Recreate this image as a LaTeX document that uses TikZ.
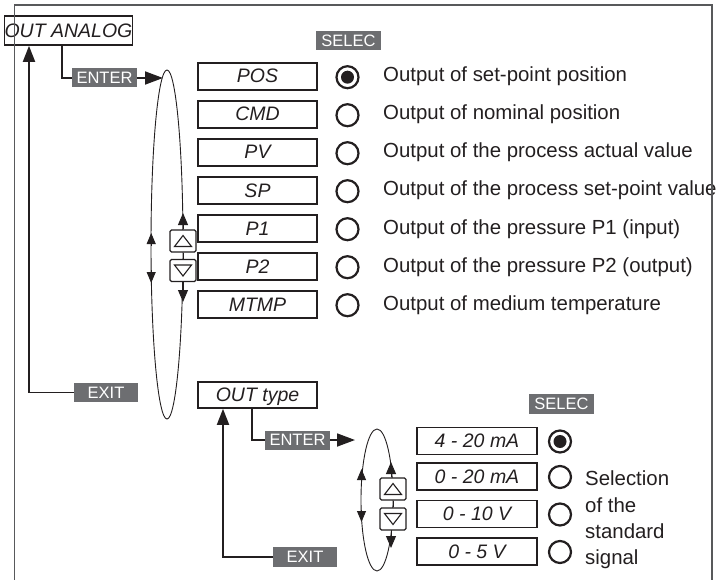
\documentclass[tikz,border=0pt]{standalone}
\usepackage{fontspec}
\setmainfont{Liberation Sans}
\usetikzlibrary{arrows.meta,calc}
\definecolor{ink}{HTML}{231F20}
\definecolor{btngray}{HTML}{6D6E71}
\definecolor{framegray}{HTML}{58595B}
\begin{document}
\begin{tikzpicture}[x=1pt,y=-1pt,
  menubox/.style={draw=ink, line width=1.6pt, minimum width=119pt, minimum height=27pt,
    inner sep=0pt, text height=13pt, text depth=0pt, text=ink,
    font=\fontsize{19.5}{21}\selectfont\itshape},
  keybtn/.style={fill=btngray, text=white, inner sep=0pt, minimum width=65pt,
    minimum height=19pt, text height=11.5pt, text depth=0pt,
    font=\fontsize{16.5}{18}\selectfont},
  radio/.style={circle, draw=ink, line width=2.2pt, minimum size=22pt, inner sep=0pt},
  desc/.style={anchor=base west, inner sep=0pt, text=ink, font=\fontsize{20.4}{26.3}\selectfont},
  link/.style={draw=ink, line width=1.8pt},
  bigtip/.style={-{Triangle[length=18pt,width=13pt]}},
  uptip/.style={-{Triangle[length=16pt,width=12pt]}},
  ring/.style={draw=ink, line width=0.9pt},
  smalltip/.style={-{Triangle[length=12pt,width=10pt]}},
  sidetip/.style={-{Triangle[length=11pt,width=9pt]}},
  arrowbtn/.style={draw=ink, fill=white, line width=1.3pt, rounded corners=1.5pt,
    minimum width=26pt, minimum height=22pt, inner sep=0pt},
  tri/.style={draw=ink, line width=1.1pt, line join=miter}
]
\useasboundingbox (0,0) rectangle (717,580);

% ---------- upper menu ----------
\node[menubox, minimum width=127pt, minimum height=29pt, text height=13.5pt] (analog) at (68.5,30.5) {OUT ANALOG};
\node[keybtn] (enter1) at (104.5,78) {ENTER};
\node[keybtn] (selec1) at (348.5,40.5) {SELEC};
\node[keybtn, minimum width=64pt] (exit1) at (106,392.5) {EXIT};

\foreach \lab/\txt/\yy [count=\i] in {
  POS/Output of set-point position/76.5,
  CMD/Output of nominal position/114.5,
  PV/Output of the process actual value/152.5,
  SP/Output of the process set-point value/190.5,
  P1/Output of the pressure P1 (input)/228.5,
  P2/Output of the pressure P2 (output)/266.5,
  MTMP/Output of medium temperature/304.5}{
  \node[menubox] (b\i) at (257.5,\yy) {\lab};
  \node[radio] (r\i) at (347.5,\yy+0.7) {};
  \node[desc] (t\i) at (383,\yy+5.5) {\txt};
}
\fill[ink] (r1.center) circle[radius=6.5pt];

% loop 1
\draw[ring] (167,244.5) ellipse[x radius=16pt, y radius=174.5pt];
\coordinate (in1) at (163,78);
\draw[link] ([xshift=-6.5pt]analog.south) |- (enter1.west);
\draw[link, bigtip] (enter1.east) -- (in1);
\coordinate (ex1) at (29,0);
\draw[link, uptip] (exit1.west) -| (analog.south -| ex1);

\node[arrowbtn] (up1) at (183,241) {};
\node[arrowbtn] (dn1) at (183,270.5) {};
\draw[ring] (up1.south) -- (dn1.north);
\coordinate (up1tip) at (183,213);
\coordinate (dn1tip) at (183,302);
\draw[ring, smalltip] (up1.north) -- (up1tip);
\draw[ring, smalltip] (dn1.south) -- (dn1tip);
\coordinate (l1a) at (151.2,246);
\coordinate (l1b) at (151.2,233);
\coordinate (l1c) at (151.2,270);
\coordinate (l1d) at (151.2,283);
\draw[ring, sidetip] (l1a) -- (l1b);
\draw[ring, sidetip] (l1c) -- (l1d);
\draw[tri] ([shift={(-8.5,5.5)}]up1.center) -- ([shift={(8.5,5.5)}]up1.center) -- ([shift={(0,-5.5)}]up1.center) -- cycle;
\draw[tri] ([shift={(-8.5,-5.5)}]dn1.center) -- ([shift={(8.5,-5.5)}]dn1.center) -- ([shift={(0,5.5)}]dn1.center) -- cycle;

% ---------- lower menu ----------
\node[menubox, minimum height=26pt] (outtype) at (257.5,395) {OUT type};
\node[keybtn] (enter2) at (297.5,440) {ENTER};
\node[keybtn, minimum width=64pt, minimum height=20pt] (exit2) at (305,557) {EXIT};
\node[keybtn, minimum height=20pt] (selec2) at (561.5,404) {SELEC};

\foreach \lab/\yy [count=\i] in {4 - 20 mA/441, 0 - 20 mA/476.5, 0 - 10 V/514, 0 - 5 V/551.5}{
  \node[menubox, minimum width=120pt] (s\i) at (477,\yy) {\lab};
  \node[radio] (q\i) at (560,\yy+0.5) {};
}
\fill[ink] (q1.center) circle[radius=6.5pt];
\node[desc, anchor=north west, align=left] (seltext) at (585,471) {Selection\\of the\\standard\\signal};

\draw[ring] (377,500) ellipse[x radius=16pt, y radius=71pt];
\coordinate (in2) at (355,440);
\draw[link] ([xshift=-5.5pt]outtype.south) |- (enter2.west);
\draw[link, bigtip] (enter2.east) -- (in2);
\coordinate (ex2) at (223,0);
\draw[link, uptip] (exit2.west) -| (outtype.south -| ex2);

\node[arrowbtn] (up2) at (393,489) {};
\node[arrowbtn] (dn2) at (393,519) {};
\draw[ring] (up2.south) -- (dn2.north);
\coordinate (up2tip) at (391,462);
\coordinate (dn2tip) at (391,548);
\draw[ring, smalltip] (up2.north -| up2tip) -- (up2tip);
\draw[ring, smalltip] (dn2.south -| dn2tip) -- (dn2tip);
\coordinate (l2a) at (361.5,481);
\coordinate (l2b) at (361.5,469);
\coordinate (l2c) at (361.5,510);
\coordinate (l2d) at (361.5,522);
\draw[ring, sidetip] (l2a) -- (l2b);
\draw[ring, sidetip] (l2c) -- (l2d);
\draw[tri] ([shift={(-8.5,5.5)}]up2.center) -- ([shift={(8.5,5.5)}]up2.center) -- ([shift={(0,-5.5)}]up2.center) -- cycle;
\draw[tri] ([shift={(-8.5,-5.5)}]dn2.center) -- ([shift={(8.5,-5.5)}]dn2.center) -- ([shift={(0,5.5)}]dn2.center) -- cycle;

% ---------- frame ----------
\draw[framegray, line width=1.5pt] (14.5,580) -- (14.5,5) -- (712,5) -- (712,580);
\end{tikzpicture}
\end{document}
